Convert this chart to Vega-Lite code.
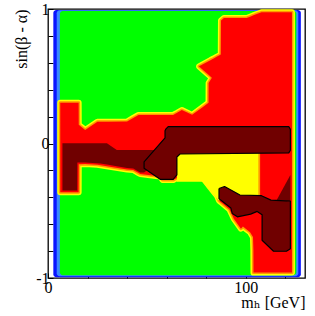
{
  "$schema": "https://vega.github.io/schema/vega-lite/v6.json",
  "width": 257,
  "height": 269,
  "autosize": {"type": "none"},
  "padding": {"left": 48, "top": 9, "right": 10, "bottom": 38},
  "background": "white",
  "config": {
    "view": {"stroke": "black", "strokeWidth": 1.3},
    "axis": {"domain": false, "grid": false, "labelFont": "'Liberation Serif', 'DejaVu Serif', serif", "labelFontSize": 16, "labelColor": "black", "tickColor": "black", "tickSize": -5, "tickWidth": 1, "titleFont": "'Liberation Serif', 'DejaVu Serif', serif", "titleFontSize": 16, "titleFontWeight": "normal", "titleColor": "black", "labelFlush": false, "labelOverlap": false}
  },
  "datasets": {
    "bands": [
      {"band": "b1", "x": 2.7, "xr": 127.9, "lo": -0.995, "hi": 0.993},
      {"band": "b2", "x": 4.4, "xr": 126.6, "lo": -0.987, "hi": 0.99},
      {"band": "b3", "x": 6.0, "xr": 125.6, "lo": -0.98, "hi": 0.985}
    ],
    "red": [
      {"id": "RA", "x": 6.2, "lo": -0.362, "hi": 0.303},
      {"id": "RA", "x": 15.5, "lo": -0.362, "hi": 0.303},
      {"id": "RA", "x": 15.55, "lo": -0.155, "hi": 0.139},
      {"id": "RA", "x": 18.8, "lo": -0.152, "hi": 0.101},
      {"id": "RA", "x": 25, "lo": -0.158, "hi": 0.161},
      {"id": "RA", "x": 30.5, "lo": -0.171, "hi": 0.161},
      {"id": "RA", "x": 40, "lo": -0.193, "hi": 0.163},
      {"id": "RA", "x": 43.1, "lo": -0.197, "hi": 0.19},
      {"id": "RA", "x": 45.8, "lo": -0.22, "hi": 0.212},
      {"id": "RA", "x": 46.6, "lo": -0.227, "hi": 0.212},
      {"id": "RA", "x": 56.7, "lo": -0.245, "hi": 0.212},
      {"id": "RA", "x": 58, "lo": -0.272, "hi": 0.212},
      {"id": "RA", "x": 63.3, "lo": -0.272, "hi": 0.212},
      {"id": "RA", "x": 65.5, "lo": -0.254, "hi": 0.23},
      {"id": "RA", "x": 67.7, "lo": -0.254, "hi": 0.249},
      {"id": "RA", "x": 72.9, "lo": -0.254, "hi": 0.213},
      {"id": "RA", "x": 78.2, "lo": -0.254, "hi": 0.27},
      {"id": "RA", "x": 81.2, "lo": -0.31, "hi": 0.303},
      {"id": "RA", "x": 81.25, "lo": -0.311, "hi": 0.45},
      {"id": "RA", "x": 82.9, "lo": -0.342, "hi": 0.489},
      {"id": "RA", "x": 82.95, "lo": -0.343, "hi": 0.625},
      {"id": "RA", "x": 85.5, "lo": -0.39, "hi": 0.646},
      {"id": "RA", "x": 86.5, "lo": -0.425, "hi": 0.654},
      {"id": "RA", "x": 87.4, "lo": -0.436, "hi": 0.661},
      {"id": "RA", "x": 87.5, "lo": -0.437, "hi": 0.914},
      {"id": "RA", "x": 89, "lo": -0.456, "hi": 0.933},
      {"id": "RA", "x": 91.8, "lo": -0.49, "hi": 0.933},
      {"id": "RA", "x": 94, "lo": -0.56, "hi": 0.933},
      {"id": "RA", "x": 97.6, "lo": -0.633, "hi": 0.933},
      {"id": "RA", "x": 98.6, "lo": -0.618, "hi": 0.933},
      {"id": "RA", "x": 100.5, "lo": -0.64, "hi": 0.933},
      {"id": "RA", "x": 102.2, "lo": -0.659, "hi": 0.943},
      {"id": "RA", "x": 103.7, "lo": -0.696, "hi": 0.952},
      {"id": "RA", "x": 103.9, "lo": -0.794, "hi": 0.953},
      {"id": "RA", "x": 103.95, "lo": -0.96, "hi": 0.953},
      {"id": "RA", "x": 105.6, "lo": -0.96, "hi": 0.963},
      {"id": "RA", "x": 108, "lo": -0.96, "hi": 0.975},
      {"id": "RA", "x": 123.4, "lo": -0.96, "hi": 0.975},
      {"id": "RS", "x": 76.4, "lo": 0.573, "hi": 0.574},
      {"id": "RS", "x": 82.9, "lo": 0.489, "hi": 0.625},
      {"id": "RS", "x": 85, "lo": 0.462, "hi": 0.62}
    ],
    "yorange": [
      {"id": "YO", "x": 90, "lo": -0.4, "hi": -0.065},
      {"id": "YO", "x": 107.3, "lo": -0.4, "hi": -0.065}
    ],
    "yhole": [
      {"id": "YH", "x": 65.2, "lo": -0.284, "hi": -0.06},
      {"id": "YH", "x": 78.2, "lo": -0.284, "hi": -0.06},
      {"id": "YH", "x": 86.2, "lo": -0.421, "hi": -0.06},
      {"id": "YH", "x": 106.4, "lo": -0.421, "hi": -0.06}
    ],
    "dred": [
      {"id": "DL", "x": 7.3, "lo": -0.35, "hi": 0.002},
      {"id": "DL", "x": 14.8, "lo": -0.35, "hi": 0.002},
      {"id": "DL", "x": 14.85, "lo": -0.141, "hi": 0.002},
      {"id": "DL", "x": 18.8, "lo": -0.141, "hi": 0.002},
      {"id": "DL", "x": 26.4, "lo": -0.148, "hi": 0.002},
      {"id": "DL", "x": 29.8, "lo": -0.157, "hi": 0.002},
      {"id": "DL", "x": 34.8, "lo": -0.17, "hi": -0.048},
      {"id": "DL", "x": 40, "lo": -0.182, "hi": -0.048},
      {"id": "DL", "x": 43.1, "lo": -0.186, "hi": -0.048},
      {"id": "DL", "x": 46.6, "lo": -0.216, "hi": -0.048},
      {"id": "DL", "x": 48.6, "lo": -0.216, "hi": -0.048},
      {"id": "DL", "x": 50, "lo": -0.2, "hi": -0.048},
      {"id": "DL", "x": 54, "lo": -0.1, "hi": -0.048},
      {"id": "P1", "x": 48.6, "lo": -0.184, "hi": -0.137},
      {"id": "P1", "x": 56.7, "lo": -0.266, "hi": 0.0},
      {"id": "P1", "x": 59.2, "lo": -0.266, "hi": 0.042},
      {"id": "P1", "x": 59.25, "lo": -0.266, "hi": 0.094},
      {"id": "P1", "x": 59.7, "lo": -0.266, "hi": 0.109},
      {"id": "P1", "x": 60.8, "lo": -0.266, "hi": 0.126},
      {"id": "P1", "x": 63.3, "lo": -0.266, "hi": 0.126},
      {"id": "P1", "x": 65.2, "lo": -0.234, "hi": 0.126},
      {"id": "P1", "x": 65.25, "lo": -0.1, "hi": 0.126},
      {"id": "P1", "x": 66.8, "lo": -0.078, "hi": 0.126},
      {"id": "P1", "x": 121.8, "lo": -0.07, "hi": 0.126},
      {"id": "P1", "x": 122.6, "lo": -0.05, "hi": 0.105},
      {"id": "TR", "x": 115.7, "lo": -0.42, "hi": -0.42},
      {"id": "TR", "x": 122.6, "lo": -0.43, "hi": -0.234},
      {"id": "P2", "x": 86.5, "lo": -0.41, "hi": -0.335},
      {"id": "P2", "x": 87, "lo": -0.417, "hi": -0.332},
      {"id": "P2", "x": 89.3, "lo": -0.443, "hi": -0.32},
      {"id": "P2", "x": 92.5, "lo": -0.48, "hi": -0.346},
      {"id": "P2", "x": 93.2, "lo": -0.52, "hi": -0.352},
      {"id": "P2", "x": 95.8, "lo": -0.545, "hi": -0.372},
      {"id": "P2", "x": 97.1, "lo": -0.541, "hi": -0.383},
      {"id": "P2", "x": 102.5, "lo": -0.525, "hi": -0.385},
      {"id": "P2", "x": 105.8, "lo": -0.505, "hi": -0.386},
      {"id": "P2", "x": 107.7, "lo": -0.524, "hi": -0.387},
      {"id": "P2", "x": 108.3, "lo": -0.53, "hi": -0.391},
      {"id": "P2", "x": 108.35, "lo": -0.719, "hi": -0.391},
      {"id": "P2", "x": 112.8, "lo": -0.782, "hi": -0.421},
      {"id": "P2", "x": 114.1, "lo": -0.801, "hi": -0.422},
      {"id": "P2", "x": 120.6, "lo": -0.801, "hi": -0.427},
      {"id": "P2", "x": 122.6, "lo": -0.782, "hi": -0.435}
    ],
    "outline": [
      {"id": "P1", "o": 1, "x": 59.7, "lo": 0.109},
      {"id": "P1", "o": 2, "x": 60.8, "lo": 0.126},
      {"id": "P1", "o": 3, "x": 121.8, "lo": 0.126},
      {"id": "P1", "o": 4, "x": 122.6, "lo": 0.105},
      {"id": "P1", "o": 5, "x": 122.6, "lo": -0.05},
      {"id": "P1", "o": 6, "x": 121.8, "lo": -0.07},
      {"id": "P1", "o": 7, "x": 66.8, "lo": -0.078},
      {"id": "P1", "o": 8, "x": 65.2, "lo": -0.1},
      {"id": "P1", "o": 9, "x": 65.2, "lo": -0.234},
      {"id": "P1", "o": 10, "x": 63.3, "lo": -0.266},
      {"id": "P1", "o": 11, "x": 56.7, "lo": -0.266},
      {"id": "P1", "o": 12, "x": 48.6, "lo": -0.184},
      {"id": "P1", "o": 13, "x": 48.6, "lo": -0.137},
      {"id": "P1", "o": 14, "x": 59.2, "lo": 0.042},
      {"id": "P1", "o": 15, "x": 59.2, "lo": 0.094},
      {"id": "P1", "o": 16, "x": 59.7, "lo": 0.109},
      {"id": "P2", "o": 1, "x": 86.5, "lo": -0.335},
      {"id": "P2", "o": 2, "x": 89.3, "lo": -0.32},
      {"id": "P2", "o": 3, "x": 97.1, "lo": -0.383},
      {"id": "P2", "o": 4, "x": 107.7, "lo": -0.387},
      {"id": "P2", "o": 5, "x": 112.8, "lo": -0.421},
      {"id": "P2", "o": 6, "x": 122.6, "lo": -0.428},
      {"id": "P2", "o": 7, "x": 122.6, "lo": -0.782},
      {"id": "P2", "o": 8, "x": 120.6, "lo": -0.801},
      {"id": "P2", "o": 9, "x": 114.1, "lo": -0.801},
      {"id": "P2", "o": 10, "x": 108.3, "lo": -0.719},
      {"id": "P2", "o": 11, "x": 108.3, "lo": -0.53},
      {"id": "P2", "o": 12, "x": 105.8, "lo": -0.505},
      {"id": "P2", "o": 13, "x": 102.5, "lo": -0.525},
      {"id": "P2", "o": 14, "x": 95.8, "lo": -0.545},
      {"id": "P2", "o": 15, "x": 93.2, "lo": -0.52},
      {"id": "P2", "o": 16, "x": 92.5, "lo": -0.48},
      {"id": "P2", "o": 17, "x": 87, "lo": -0.417},
      {"id": "P2", "o": 18, "x": 86.5, "lo": -0.41},
      {"id": "P2", "o": 19, "x": 86.5, "lo": -0.335}
    ]
  },
  "encoding": {
    "x": {
      "field": "x", "type": "quantitative",
      "scale": {"domain": [0, 130], "nice": false, "zero": false},
      "axis": {
        "values": [0, 20, 40, 60, 80, 100, 120],
        "labelExpr": "datum.value == 0 ? '0' : datum.value == 100 ? '100' : ''",
        "labelPadding": 6,
        "title": "mₕ [GeV]",
        "titleX": 257, "titleY": 29, "titleAlign": "right", "titleBaseline": "alphabetic"
      }
    },
    "y": {
      "field": "lo", "type": "quantitative", "stack": null,
      "scale": {"domain": [-1, 1], "nice": false, "zero": false},
      "axis": {
        "values": [-1, -0.8, -0.6, -0.4, -0.2, 0, 0.2, 0.4, 0.6, 0.8, 1],
        "labelExpr": "abs(datum.value - 1) < 0.01 ? '1' : abs(datum.value) < 0.01 ? '0' : abs(datum.value + 1) < 0.01 ? '-1' : ''",
        "labelPadding": 4,
        "title": "sin(β - α)",
        "titleAngle": -90, "titleX": -22, "titleY": 0, "titleAlign": "right", "titleBaseline": "alphabetic"
      }
    }
  },
  "layer": [
    {
      "data": {"name": "bands"},
      "mark": {"type": "rect", "cornerRadius": 3},
      "encoding": {
        "x2": {"field": "xr"},
        "y2": {"field": "hi"},
        "color": {"field": "band", "type": "nominal", "legend": null, "scale": {"domain": ["b1", "b2", "b3"], "range": ["#0a14ff", "#3a86ff", "#00ff00"]}}
      }
    },
    {
      "data": {"name": "red"},
      "mark": {"type": "area", "fill": "#ffff00", "stroke": "#ffff00", "strokeWidth": 6, "strokeJoin": "round", "clip": true},
      "encoding": {"y2": {"field": "hi"}, "detail": {"field": "id"}}
    },
    {
      "data": {"name": "red"},
      "mark": {"type": "area", "fill": "#ff9900", "stroke": "#ff9900", "strokeWidth": 3, "strokeJoin": "round", "clip": true},
      "encoding": {"y2": {"field": "hi"}, "detail": {"field": "id"}}
    },
    {
      "data": {"name": "red"},
      "mark": {"type": "area", "fill": "#ff0000", "clip": true},
      "encoding": {"y2": {"field": "hi"}, "detail": {"field": "id"}}
    },
    {
      "data": {"name": "yorange"},
      "mark": {"type": "area", "fill": "#ff9900"},
      "encoding": {"y2": {"field": "hi"}, "detail": {"field": "id"}}
    },
    {
      "data": {"name": "yhole"},
      "mark": {"type": "area", "fill": "#ffff00"},
      "encoding": {"y2": {"field": "hi"}, "detail": {"field": "id"}}
    },
    {
      "data": {"name": "dred"},
      "mark": {"type": "area", "fill": "#700000"},
      "encoding": {"y2": {"field": "hi"}, "detail": {"field": "id"}}
    },
    {
      "data": {"name": "outline"},
      "mark": {"type": "line", "stroke": "black", "strokeWidth": 1.2, "strokeJoin": "round"},
      "encoding": {"detail": {"field": "id"}, "order": {"field": "o", "type": "quantitative"}}
    }
  ]
}
